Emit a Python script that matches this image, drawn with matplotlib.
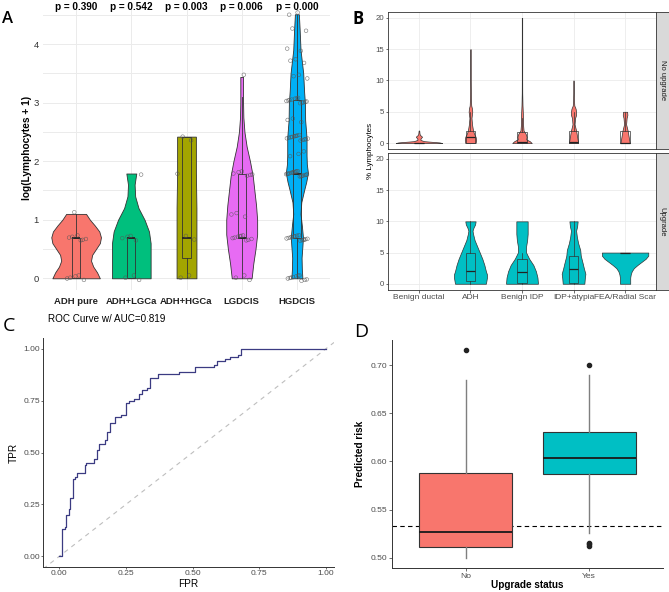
import matplotlib
matplotlib.use('Agg')
import matplotlib.pyplot as plt
import numpy as np

plt.rcParams['font.family'] = ['Liberation Sans', 'DejaVu Sans']

W, H = 669, 592

# ---------------- Panel A ----------------
a_groups = ['ADH pure', 'ADH+LGCa', 'ADH+HGCa', 'LGDCIS', 'HGDCIS']
a_colors = ['#F8766D', '#00BF7D', '#A3A500', '#E76BF3', '#00B0F6']
a_pvals = ['0.390', '0.542', '0.003', '0.006', '0.000']

# violin outlines: y levels and half widths
a_vy = [
    [0, 0.1, 0.2, 0.3, 0.4, 0.5, 0.6, 0.7, 0.8, 0.9, 1.0, 1.1],
    [0, 0.2, 0.4, 0.6, 0.8, 1.0, 1.2, 1.4, 1.6, 1.79],
    [0, 0.6, 1.2, 1.8, 2.42],
    [0, 0.25, 0.5, 0.75, 1.0, 1.25, 1.5, 1.75, 2.0, 2.25, 2.5, 2.75, 3.0, 3.25, 3.44],
    [0, 0.15, 0.35, 0.55, 0.7, 0.9, 1.1, 1.3, 1.5, 1.65, 1.8, 1.95, 2.1, 2.4, 2.7,
     3.0, 3.2, 3.5, 3.9, 4.25, 4.51],
]
a_vw = [
    [0.43, 0.38, 0.31, 0.27, 0.29, 0.36, 0.43, 0.45, 0.42, 0.34, 0.25, 0.18],
    [0.35, 0.35, 0.35, 0.35, 0.32, 0.24, 0.13, 0.07, 0.06, 0.09],
    [0.18, 0.18, 0.18, 0.17, 0.17],
    [0.18, 0.21, 0.25, 0.28, 0.28, 0.26, 0.23, 0.2, 0.15, 0.09, 0.05, 0.03, 0.025,
     0.025, 0.025],
    [0.1, 0.09, 0.085, 0.1, 0.11, 0.09, 0.066, 0.08, 0.13, 0.17, 0.2, 0.18, 0.175,
     0.175, 0.15, 0.145, 0.13, 0.115, 0.066, 0.05, 0.036],
]
# q1, median, q3, lower whisker, upper whisker
a_box = [
    (0, 0.69, 0.69, 0, 1.1),
    (0, 0.69, 0.69, 0, 0.69),
    (0.34, 0.69, 2.42, 0, 2.42),
    (0.69, 0.69, 1.79, 0, 3.1),
    (0.69, 1.79, 3.04, 0, 4.5),
]
# observed log(lymphocytes + 1) values
a_pts = [
    [0] * 5 + [0.69] * 6 + [1.1],
    [0] * 3 + [0.69] * 4 + [1.79],
    [0] * 2 + [0.69] * 2 + [1.79] + [2.4] * 2,
    [0] * 3 + [0.69] * 9 + [1.1] * 3 + [1.79] * 6 + [3.43],
    [0] * 10 + [0.69] * 14 + [1.79] * 18 + [2.08] * 2 + [2.2] + [2.4] * 14
    + [2.71] * 3 + [3.04] * 12 + [3.43] * 3 + [3.71] * 3 + [3.93] * 2
    + [4.25] * 2 + [4.5] * 2,
]

# ---------------- Panel B ----------------
b_cats = ['Benign ductal', 'ADH', 'Benign IDP', 'IDP+atypia', 'FEA/Radial Scar']
b_facets = ['No upgrade', 'Upgrade']
b_colors = ['#F8766D', '#00BFC4']
b_no_vy = [
    [0, 0.1, 0.2, 0.3, 0.5, 0.7, 0.9, 1.0, 1.1, 1.3, 1.5, 2.0],
    [0, 0.5, 1, 1.5, 2, 2.5, 3, 4, 5, 5.5, 6, 7, 8, 10, 12, 15],
    [0, 0.3, 0.6, 1, 1.5, 2, 3, 4, 5, 6, 8, 10, 15, 20],
    [0, 0.5, 1, 1.5, 2, 3, 4, 4.5, 5, 5.5, 6, 7, 8, 10],
    [0, 0.5, 1, 1.5, 2, 3, 4, 4.5, 5],
]
b_no_vw = [
    [0.45, 0.4, 0.25, 0.1, 0.03, 0.03, 0.05, 0.06, 0.05, 0.02, 0.012, 0.006],
    [0.1, 0.11, 0.1, 0.07, 0.05, 0.04, 0.03, 0.02, 0.035, 0.03, 0.015, 0.01, 0.008,
     0.006, 0.006, 0.005],
    [0.19, 0.15, 0.08, 0.09, 0.07, 0.03, 0.02, 0.02, 0.015, 0.01, 0.005, 0.004,
     0.004, 0.004],
    [0.09, 0.08, 0.07, 0.06, 0.05, 0.02, 0.03, 0.05, 0.05, 0.04, 0.015, 0.008,
     0.006, 0.005],
    [0.09, 0.08, 0.07, 0.06, 0.05, 0.02, 0.03, 0.045, 0.04],
]
b_no_box = [
    (0, 0, 0, 0, 0),
    (0, 0.9, 2, 0, 5),
    (0, 0.2, 1.7, 0, 4),
    (0, 0.1, 2, 0, 5),
    (0, 0, 2, 0, 5),
]
b_up_vy = [
    None,
    [0, 0.5, 1, 1.5, 2, 3, 4, 5, 6, 7, 8, 8.5, 9, 9.5, 10],
    [0, 1, 2, 3, 4, 5, 6, 7, 8, 9, 10],
    [0, 1, 1.6, 2.5, 3.2, 4.5, 5.4, 6.5, 7.5, 8.5, 9.2, 10],
    [0, 0.5, 1, 1.5, 2, 2.5, 3, 3.5, 4, 4.5, 5],
]
b_up_vw = [
    None,
    [0.3, 0.31, 0.32, 0.32, 0.3, 0.27, 0.23, 0.18, 0.13, 0.08, 0.05, 0.04, 0.06,
     0.09, 0.1],
    [0.31, 0.3, 0.27, 0.22, 0.14, 0.08, 0.08, 0.1, 0.11, 0.11, 0.11],
    [0.21, 0.22, 0.23, 0.2, 0.18, 0.14, 0.13, 0.09, 0.065, 0.05, 0.07, 0.08],
    [0.1, 0.1, 0.1, 0.11, 0.13, 0.17, 0.24, 0.32, 0.4, 0.45, 0.45],
]
b_up_box = [
    None,
    (0.5, 2, 5, 0, 10),
    (0.2, 1.9, 4, 0, 5),
    (0.1, 2.3, 4.5, 0, 10),
    (5, 5, 5, 5, 5),
]

# ---------------- Panel C ----------------
roc_fpr = [0, 0.01, 0.01, 0.02, 0.025, 0.035, 0.04, 0.05, 0.05, 0.06, 0.065, 0.09,
           0.095, 0.10, 0.13, 0.14, 0.15, 0.17, 0.18, 0.19, 0.21, 0.23, 0.25, 0.26,
           0.28, 0.30, 0.31, 0.33, 0.34, 0.37, 0.44, 0.45, 0.50, 0.51, 0.58, 0.59,
           0.62, 0.64, 0.67, 0.68, 1.0]
roc_tpr = [0, 0.05, 0.13, 0.14, 0.2, 0.23, 0.28, 0.29, 0.37, 0.38, 0.40, 0.40,
           0.44, 0.45, 0.47, 0.51, 0.54, 0.56, 0.60, 0.64, 0.67, 0.68, 0.74, 0.75,
           0.76, 0.78, 0.80, 0.81, 0.86, 0.88, 0.88, 0.89, 0.89, 0.91, 0.92, 0.94,
           0.95, 0.96, 0.97, 1.0, 1.0]
auc = 0.819

# ---------------- Panel D ----------------
d_cats = ['No', 'Yes']
d_colors = ['#F8766D', '#00BFC4']
d_q1 = [0.5114, 0.5867]
d_med = [0.5264, 0.6030]
d_q3 = [0.5877, 0.6310]
d_lo = [0.5000, 0.5254]
d_hi = [0.6840, 0.6900]
d_out = [[0.716], [0.700, 0.5155, 0.5140, 0.5125]]
d_cut = 0.5333


def rect(x0, y0, x1, y1):
    return [x0 / W, 1 - y1 / H, (x1 - x0) / W, (y1 - y0) / H]


def spread(n, amp, phase=0.0):
    # evenly scattered offsets (golden ratio sequence) for the jitter
    return (((np.arange(n) + 1) * 0.6180339887 + phase) % 1 - 0.5) * 2 * amp


def stats(b):
    q1, med, q3, lo, hi = b
    return dict(q1=q1, med=med, q3=q3, whislo=lo, whishi=hi, fliers=[])


def violin(ax, x, ys, ws, color, lw=0.6):
    ys = np.array(ys)
    ws = np.array(ws)
    ax.fill_betweenx(ys, x - ws, x + ws, facecolor=color, edgecolor='#333333',
                     linewidth=lw, zorder=2)


fig = plt.figure(figsize=(W / 100, H / 100), dpi=100)
letter_font = ['Open Sans', 'DejaVu Sans']

# ===== A =====
ax = fig.add_axes(rect(43, 2, 330, 290))
for i in range(5):
    violin(ax, i + 1, a_vy[i], a_vw[i], a_colors[i])
ax.bxp([stats(b) for b in a_box], positions=range(1, 6), widths=0.15,
       showcaps=False, showfliers=False, patch_artist=True,
       boxprops=dict(facecolor='none', edgecolor='#333333', linewidth=0.6),
       whiskerprops=dict(color='#333333', linewidth=0.6),
       medianprops=dict(color='#222222', linewidth=1.3), zorder=3)
for i, pts in enumerate(a_pts):
    n = len(pts)
    xs = i + 1 + spread(n, 0.2)
    ys = np.array(pts) + spread(n, 0.05, 0.37)
    ax.scatter(xs, ys, s=7, facecolors='none', edgecolors='#555555',
               linewidths=0.4, alpha=0.8, zorder=4)
for i, p in enumerate(a_pvals):
    ax.text(i + 1, 4.63, 'p = ' + p, ha='center', va='center', fontsize=7.2,
            fontweight='bold', zorder=5)
ax.set_xlim(0.4, 5.6)
ax.set_ylim(-0.2, 4.72)
ax.set_yticks([0, 1, 2, 3, 4])
ax.set_yticks(np.arange(0.5, 4.6, 1.0), minor=True)
ax.set_xticks(range(1, 6))
ax.set_xticklabels(a_groups, fontsize=6, fontweight='bold')
ax.tick_params(axis='both', length=0, labelsize=6.8, labelcolor='#333333')
ax.tick_params(axis='x', pad=5, labelcolor='#222222')
ax.tick_params(axis='y', pad=3)
ax.tick_params(which='minor', length=0)
ax.grid(True, which='both', color='#EBEBEB', linewidth=0.7)
ax.grid(False, axis='x', which='minor')
ax.set_axisbelow(True)
for s in ax.spines.values():
    s.set_visible(False)
fig.text(27 / W, 1 - 148 / H, 'log(Lymphocytes + 1)', rotation=90, ha='center',
         va='center', fontsize=7.3, fontweight='bold')
fig.text(2 / W, 1 - 19 / H, 'A', fontsize=12, family=letter_font,
         fontweight='semibold', ha='left', va='center')

# ===== B =====
b_rows = [(11.7, 149.3, b_no_vy, b_no_vw, b_no_box),
          (152.7, 290, b_up_vy, b_up_vw, b_up_box)]
for r, (y0, y1, vys, vws, boxes) in enumerate(b_rows):
    ax = fig.add_axes(rect(388, y0, 656, y1))
    for i in range(5):
        if vys[i] is None:
            continue
        violin(ax, i + 1, vys[i], vws[i], b_colors[r], lw=0.5)
    keep = [i for i in range(5) if boxes[i] is not None]
    ax.bxp([stats(boxes[i]) for i in keep], positions=[i + 1 for i in keep],
           widths=0.18, showcaps=False, showfliers=False, patch_artist=True,
           boxprops=dict(facecolor='none', edgecolor='#333333', linewidth=0.5),
           whiskerprops=dict(color='#333333', linewidth=0.5),
           medianprops=dict(color='#222222', linewidth=0.9), zorder=3)
    ax.set_xlim(0.4, 5.6)
    ax.set_ylim(-1, 21)
    ax.set_yticks([0, 5, 10, 15, 20])
    ax.set_xticks(range(1, 6))
    ax.grid(True, color='#EBEBEB', linewidth=0.6)
    ax.set_axisbelow(True)
    for s in ax.spines.values():
        s.set_color('#333333')
        s.set_linewidth(0.6)
    ax.tick_params(axis='both', length=1.8, width=0.5, color='#333333',
                   labelsize=5.6, labelcolor='#4D4D4D', pad=1.2)
    if r == 0:
        ax.tick_params(axis='x', length=0, labelbottom=False)
    else:
        ax.set_xticklabels(b_cats, fontsize=6)
    sx = fig.add_axes(rect(656, y0, 668.5, y1))
    sx.set_facecolor('#D9D9D9')
    sx.set_xticks([])
    sx.set_yticks([])
    for s in sx.spines.values():
        s.set_color('#333333')
        s.set_linewidth(0.6)
    sx.text(0.5, 0.5, b_facets[r], rotation=270, ha='center', va='center',
            fontsize=5.5, color='#1A1A1A', transform=sx.transAxes)
fig.text(370 / W, 1 - 151 / H, '% Lymphocytes', rotation=90, ha='center',
         va='center', fontsize=5.8)
fig.text(353 / W, 1 - 19 / H, 'B', fontsize=12, family=letter_font,
         fontweight='bold', ha='left', va='center')

# ===== C =====
ax = fig.add_axes(rect(43.3, 338.3, 334, 566.7))
ax.plot([-0.06, 1.03], [-0.06, 1.03], ls=(0, (4, 4)), color='#BEBEBE', lw=0.8)
ax.plot(roc_fpr, roc_tpr, color='#3B3B82', lw=0.9, drawstyle='steps-post')
ax.set_xlim(-0.06, 1.03)
ax.set_ylim(-0.05, 1.05)
ticks = [0, 0.25, 0.5, 0.75, 1.0]
ax.set_xticks(ticks)
ax.set_yticks(ticks)
ax.set_xticklabels(['%.2f' % t for t in ticks])
ax.set_yticklabels(['%.2f' % t for t in ticks])
for s in ['top', 'right']:
    ax.spines[s].set_visible(False)
for s in ['left', 'bottom']:
    ax.spines[s].set_color('#333333')
    ax.spines[s].set_linewidth(0.7)
ax.tick_params(axis='both', length=1.5, width=0.5, color='#333333',
               labelsize=6.1, labelcolor='#4D4D4D', pad=1)
ax.set_xlabel('FPR', fontsize=7.2, labelpad=1)
ax.set_ylabel('TPR', fontsize=7.2, labelpad=3)
fig.text(48 / W, 1 - 319 / H, 'ROC Curve w/ AUC=%.3f' % auc, fontsize=7.1,
         ha='left', va='center')
fig.text(3 / W, 1 - 326 / H, 'C', fontsize=14, family=letter_font,
         ha='left', va='center')

# ===== D =====
ax = fig.add_axes(rect(391.7, 340, 663.3, 568.3))
ax.axhline(d_cut, ls=(0, (4, 3)), color='black', lw=0.8, zorder=1)
d_stats = [dict(q1=d_q1[i], med=d_med[i], q3=d_q3[i], whislo=d_lo[i],
                whishi=d_hi[i], fliers=d_out[i]) for i in range(2)]
bp = ax.bxp(d_stats, positions=[1, 2], widths=0.75, showcaps=False,
            patch_artist=True,
            boxprops=dict(edgecolor='#333333', linewidth=0.8),
            whiskerprops=dict(color='#7F7F7F', linewidth=1.0),
            medianprops=dict(color='#1A1A1A', linewidth=1.3),
            flierprops=dict(marker='o', markerfacecolor='#222222',
                            markeredgecolor='#222222', markersize=3), zorder=2)
for patch, c in zip(bp['boxes'], d_colors):
    patch.set_facecolor(c)
ax.set_xlim(0.4, 2.6)
ax.set_ylim(0.489, 0.726)
ax.set_yticks([0.50, 0.55, 0.60, 0.65, 0.70])
ax.set_yticklabels(['0.50', '0.55', '0.60', '0.65', '0.70'])
ax.set_xticks([1, 2])
ax.set_xticklabels(d_cats)
for s in ['top', 'right']:
    ax.spines[s].set_visible(False)
for s in ['left', 'bottom']:
    ax.spines[s].set_color('#333333')
    ax.spines[s].set_linewidth(0.7)
ax.tick_params(axis='both', length=2, width=0.5, color='#333333',
               labelsize=6.1, labelcolor='#4D4D4D', pad=1.5)
ax.set_xlabel('Upgrade status', fontsize=7.2, fontweight='bold', labelpad=0)
ax.set_ylabel('Predicted risk', fontsize=7.2, fontweight='bold', labelpad=4)
fig.text(354 / W, 1 - 332 / H, 'D', fontsize=14, family=letter_font,
         ha='left', va='center')

fig.savefig('out.png', dpi=100)
